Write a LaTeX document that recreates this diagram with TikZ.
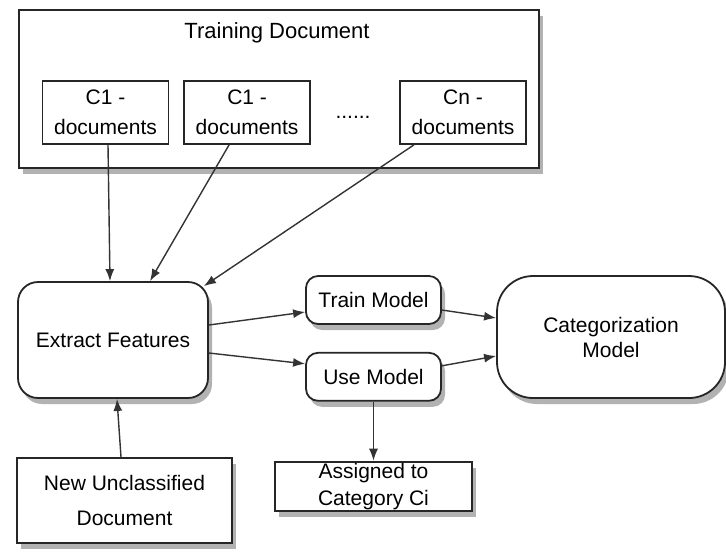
\documentclass[tikz,border=0pt]{standalone}
\usepackage{fontspec}
\setmainfont{Liberation Sans}
\usetikzlibrary{arrows.meta,positioning,shadows}

\begin{document}
\begin{tikzpicture}[
  x=0.5pt, y=-0.5pt,
  shadowed/.style={drop shadow={shadow xshift=2pt, shadow yshift=-3pt,
    fill=black!30, opacity=1}},
  group/.style={rectangle, draw=black!85, line width=0.9pt, fill=white,
    minimum width=260pt, minimum height=79pt, shadowed},
  docbox/.style={rectangle, draw=black!85, line width=0.8pt, fill=white,
    minimum width=63pt, minimum height=31.5pt, inner sep=0pt, align=center,
    font=\fontsize{10.5}{15}\selectfont},
  stage/.style={rectangle, draw=black!85, line width=0.9pt, fill=white,
    rounded corners=10pt, inner sep=0pt, align=center, shadowed,
    font=\fontsize{10.5}{13.5}\selectfont},
  plain/.style={rectangle, draw=black!85, line width=0.9pt, fill=white,
    inner sep=0pt, align=center, shadowed,
    font=\fontsize{10.5}{13.5}\selectfont},
  lbl/.style={font=\fontsize{10.5}{13.5}\selectfont},
  arr/.style={-{Latex[length=6pt,width=4.5pt]}, line width=0.7pt, black!80},
]
\useasboundingbox (0,0) rectangle (726,554);
% training set
\node[group] (training) at (279,89) {};
\node[lbl, font=\fontsize{11}{13.5}\selectfont] (title) at (277,33) {Training Document};
\node[docbox] (c1a) at (105.5,112.5) {C1 -\\documents};
\node[docbox, right=7pt of c1a] (c1b) {C1 -\\documents};
\node[lbl] (dots) at (353,117) {......};
\node[docbox] (cn) at (463,112.5) {Cn -\\documents};
% processing
\node[stage, minimum width=95pt, minimum height=58pt] (extract) at (113,340) {Extract Features};
\node[stage, rounded corners=6pt, minimum width=67.5pt, minimum height=24pt] (trainM) at (373.5,300) {Train Model};
\node[stage, rounded corners=6pt, minimum width=67.5pt, minimum height=24pt, below=13.5pt of trainM] (useM) {Use Model};
\node[stage, rounded corners=18pt, minimum width=114pt, minimum height=61pt,
  font=\fontsize{10.5}{12.5}\selectfont] (catM) at (611,337) {Categorization\\Model};
\node[plain, minimum width=107.5pt, minimum height=42.5pt,
  font=\fontsize{10.5}{17.5}\selectfont] (newDoc) at (124.5,500.5) {New Unclassified\\Document};
\node[plain, minimum width=98.5pt, minimum height=24.5pt, below=29.5pt of useM] (assigned) {Assigned to\\Category Ci};
% connectors
\draw[arr] ([xshift=1.25pt]c1a.south) -- ([xshift=-1.5pt]extract.north);
\draw[arr] ([xshift=-9pt]c1b.south) -- ([xshift=18.5pt]extract.north);
\draw[arr] ([xshift=-24.5pt]cn.south) -- ([xshift=-2.5pt,yshift=-2.5pt]extract.north east);
\draw[arr] ([yshift=7.5pt]extract.east) -- ([yshift=-6pt]trainM.west);
\draw[arr] ([yshift=-6.5pt]extract.east) -- ([yshift=6.5pt]useM.west);
\draw[arr] ([yshift=-5pt]trainM.east) -- ([yshift=9.5pt]catM.west);
\draw[arr] ([yshift=5.5pt]useM.east) -- ([yshift=-9.5pt]catM.west);
\draw[arr] (useM.south) -- (useM.south |- assigned.north);
\draw[arr] ([xshift=-1.75pt]newDoc.north) -- ([xshift=2pt]extract.south);
\end{tikzpicture}
\end{document}
